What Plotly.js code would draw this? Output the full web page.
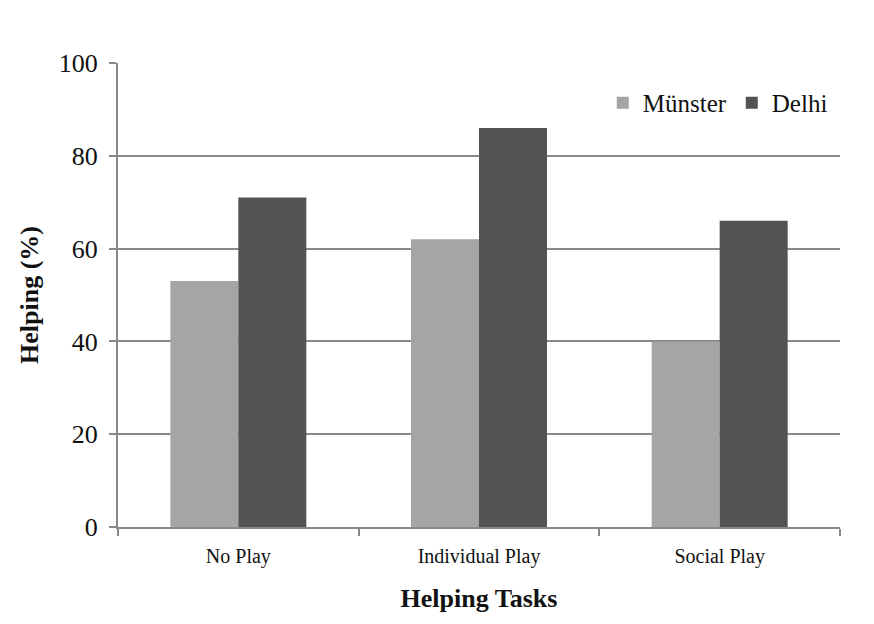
<!DOCTYPE html>
<html><head><meta charset="utf-8">
<script src="https://cdn.plot.ly/plotly-3.0.1.min.js"></script>
<style>body{margin:0;background:#fff}#c{width:874px;height:624px}</style>
</head><body><div id="c"></div>
<script>
const categories = ["No Play", "Individual Play", "Social Play"];
const munster = [53, 62, 40];
const delhi = [71, 86, 66];
const yTicks = [0, 20, 40, 60, 80, 100];

const serif = "Liberation Serif, Times New Roman, serif";
const data = [
  {type: "bar", name: "Münster", x: categories, y: munster, marker: {color: "#a5a5a5"}},
  {type: "bar", name: "Delhi", x: categories, y: delhi, marker: {color: "#535353"}}
];
const layout = {
  width: 874, height: 624,
  margin: {l: 118, r: 34, t: 63, b: 97},
  paper_bgcolor: "#fff", plot_bgcolor: "#fff",
  barmode: "group", bargap: 0.435, bargroupgap: 0,
  font: {family: serif, color: "#111"},
  showlegend: true,
  legend: {orientation: "h", x: 0.99, xanchor: "right", y: 0.914, yanchor: "middle",
    font: {family: serif, size: 25, color: "#111"}, bgcolor: "rgba(0,0,0,0)", traceorder: "normal",
    itemwidth: 30, entrywidth: 0},
  xaxis: {
    tickson: "boundaries", ticks: "outside", ticklen: 7, tickcolor: "#888", tickwidth: 2,
    showline: true, linecolor: "#888", linewidth: 2,
    ticklabelstandoff: 10,
    tickfont: {family: serif, size: 20, color: "#111"},
    title: {text: "<b>Helping Tasks</b>", font: {family: serif, size: 26, color: "#111"}, standoff: 22}
  },
  yaxis: {
    range: [0, 100], tickvals: yTicks, ticktext: yTicks.map(String),
    ticks: "outside", ticklen: 7, tickcolor: "#888", tickwidth: 2,
    showline: true, linecolor: "#888", linewidth: 2,
    showgrid: true, gridcolor: "#888", gridwidth: 2, zeroline: false,
    ticklabelstandoff: 6,
    tickfont: {family: serif, size: 26, color: "#111"},
    title: {text: "<b>Helping (%)</b>", font: {family: serif, size: 26, color: "#111"}, standoff: 13}
  }
};
Plotly.newPlot("c", data, layout, {displayModeBar: false, staticPlot: true});
</script></body></html>
